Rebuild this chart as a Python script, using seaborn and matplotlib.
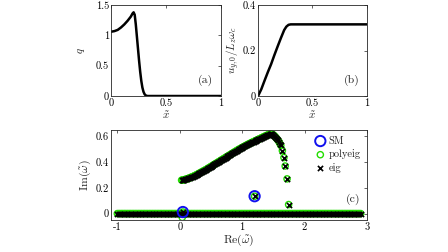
import numpy as np
import pandas as pd
import matplotlib
matplotlib.use("Agg")
import matplotlib.pyplot as plt
import seaborn as sns

# === data ===
# (a) q along x
xa = [0.0, 0.03, 0.06, 0.09, 0.12, 0.15, 0.18, 0.195, 0.205, 0.215, 0.225,
      0.235, 0.245, 0.255, 0.265, 0.275, 0.285, 0.295, 0.305, 0.315, 0.33,
      0.35, 0.5, 0.75, 1.0]
qa = [1.06, 1.07, 1.09, 1.13, 1.18, 1.24, 1.31, 1.36, 1.38, 1.34, 1.18,
      0.98, 0.78, 0.58, 0.40, 0.25, 0.14, 0.07, 0.03, 0.01, 0.0,
      0.0, 0.0, 0.0, 0.0]

# (b) u_y0 along x
xb = [0.0, 0.03, 0.06, 0.09, 0.12, 0.15, 0.18, 0.21, 0.24, 0.26, 0.28,
      0.30, 0.35, 0.5, 0.75, 1.0]
ub = [0.0, 0.03, 0.068, 0.105, 0.14, 0.18, 0.218, 0.255, 0.29, 0.305, 0.313,
      0.315, 0.315, 0.315, 0.315, 0.315]

# (c) eigenvalues: real-axis branch
re_real = [-1.0, -0.95, -0.9, -0.85, -0.8, -0.75, -0.7, -0.65, -0.6, -0.55,
           -0.5, -0.45, -0.4, -0.35, -0.3, -0.25, -0.2, -0.15, -0.1, -0.05,
           0.0, 0.05, 0.1, 0.15, 0.2, 0.25, 0.3, 0.35, 0.4, 0.45,
           0.5, 0.55, 0.6, 0.65, 0.7, 0.75, 0.8, 0.85, 0.9, 0.95,
           1.0, 1.05, 1.1, 1.15, 1.2, 1.25, 1.3, 1.35, 1.4, 1.45,
           1.5, 1.55, 1.6, 1.65, 1.7, 1.75, 1.8, 1.85, 1.9, 1.95,
           2.0, 2.05, 2.1, 2.15, 2.2, 2.25, 2.3, 2.35, 2.4, 2.45,
           2.5, 2.55, 2.6, 2.65, 2.7, 2.75, 2.8, 2.85, 2.9,
           -0.975, -0.925, -0.875, -0.825, -0.775, -0.725, -0.675, -0.625,
           -0.575, -0.525, -0.475, -0.425, -0.375, -0.325, -0.275, -0.225,
           -0.175, -0.125, -0.075, -0.025, 0.025, 0.075, 0.125, 0.175,
           0.225, 0.275, 0.325, 0.375, 0.425, 0.475, 0.525, 0.575,
           0.625, 0.675, 0.725, 0.775, 0.825, 0.875, 0.925, 0.975,
           1.025, 1.075, 1.125, 1.175, 1.225, 1.275, 1.325, 1.375,
           1.425, 1.475, 1.525, 1.575, 1.625, 1.675, 1.725, 1.775,
           1.825, 1.875, 1.925, 1.975, 2.025, 2.075, 2.125, 2.175,
           2.225, 2.275, 2.325, 2.375, 2.425, 2.475, 2.525, 2.575,
           2.625, 2.675, 2.725, 2.775, 2.825, 2.875]
im_real = [0.0] * len(re_real)

# unstable branch
re_branch = [0.03, 0.045, 0.06, 0.075, 0.09, 0.105, 0.12, 0.135, 0.15, 0.165,
             0.18, 0.195, 0.21, 0.225, 0.24, 0.255, 0.27, 0.285, 0.30, 0.315,
             0.33, 0.345, 0.36, 0.375, 0.39, 0.405, 0.42, 0.435, 0.45, 0.465,
             0.48, 0.495, 0.51, 0.525, 0.54, 0.555, 0.57, 0.585, 0.60, 0.615,
             0.63, 0.645, 0.66, 0.675, 0.69, 0.705, 0.72, 0.735, 0.75, 0.765,
             0.78, 0.795, 0.81, 0.825, 0.84, 0.855, 0.87, 0.885, 0.90, 0.915,
             0.93, 0.945, 0.96, 0.975, 0.99, 1.005, 1.02, 1.035, 1.05, 1.065,
             1.08, 1.095, 1.11, 1.125, 1.14, 1.155, 1.17, 1.185, 1.20, 1.215,
             1.23, 1.245, 1.26, 1.275, 1.29, 1.305, 1.32, 1.335, 1.35, 1.365,
             1.38, 1.395, 1.41, 1.425, 1.44, 1.455, 1.47, 1.485, 1.50, 1.515,
             1.53, 1.545, 1.56, 1.575, 1.59, 1.605, 1.62, 1.645, 1.67, 1.69,
             1.72, 1.745]
im_branch = [0.26, 0.261, 0.262, 0.264, 0.266, 0.268, 0.27, 0.273, 0.276, 0.279,
             0.282, 0.285, 0.288, 0.291, 0.295, 0.298, 0.302, 0.306, 0.31, 0.314,
             0.318, 0.322, 0.326, 0.33, 0.334, 0.338, 0.342, 0.346, 0.351, 0.355,
             0.36, 0.364, 0.369, 0.373, 0.378, 0.382, 0.387, 0.391, 0.396, 0.40,
             0.405, 0.409, 0.414, 0.418, 0.423, 0.427, 0.432, 0.436, 0.441, 0.445,
             0.45, 0.454, 0.459, 0.463, 0.468, 0.472, 0.477, 0.481, 0.486, 0.49,
             0.495, 0.499, 0.503, 0.507, 0.511, 0.515, 0.519, 0.523, 0.527, 0.531,
             0.535, 0.539, 0.542, 0.546, 0.549, 0.553, 0.556, 0.56, 0.563, 0.567,
             0.57, 0.574, 0.577, 0.581, 0.584, 0.588, 0.591, 0.595, 0.598, 0.602,
             0.605, 0.608, 0.611, 0.614, 0.616, 0.617, 0.618, 0.616, 0.612, 0.606,
             0.598, 0.59, 0.58, 0.57, 0.56, 0.545, 0.53, 0.49, 0.436, 0.37,
             0.27, 0.07]

# isolated modes
re_iso = [0.05, 1.2]
im_iso = [0.012, 0.135]

# SM points
re_sm = [0.05, 1.2]
im_sm = [0.012, 0.135]

re_poly = re_real + re_branch + re_iso + [0.04]
im_poly = im_real + im_branch + im_iso + [-0.03]
re_eig = re_real + re_branch + re_iso
im_eig = im_real + im_branch + im_iso

# === style ===
sns.set_style("white")
plt.rcParams['font.family'] = ['cmr10', 'DejaVu Serif']
plt.rcParams['mathtext.fontset'] = 'cm'
plt.rcParams['axes.unicode_minus'] = False
plt.rcParams['axes.formatter.use_mathtext'] = True
plt.rcParams['font.size'] = 7
plt.rcParams['xtick.direction'] = 'in'
plt.rcParams['ytick.direction'] = 'in'
plt.rcParams['xtick.top'] = True
plt.rcParams['ytick.right'] = True

fig = plt.figure(figsize=(4.48, 2.52), dpi=100)
ax_a = fig.add_axes([0.248, 0.619, 0.245, 0.361])
ax_b = fig.add_axes([0.576, 0.619, 0.243, 0.361])
ax_c = fig.add_axes([0.248, 0.127, 0.571, 0.357])


def style_ax(ax):
    for sp in ax.spines.values():
        sp.set_color('#262626')
        sp.set_linewidth(0.6)
    ax.tick_params(length=2, width=0.5, pad=1.5, labelsize=7.5, colors='#262626')
    for lab in ax.get_xticklabels() + ax.get_yticklabels():
        lab.set_color('black')


# (a)
sns.lineplot(x=xa, y=qa, ax=ax_a, color='black', linewidth=1.8)
ax_a.set_xlim(0, 1)
ax_a.set_ylim(0, 1.5)
ax_a.set_xticks([0, 0.5, 1], ['0', '0.5', '1'])
ax_a.set_yticks([0, 0.5, 1, 1.5], ['0', '0.5', '1', '1.5'])
ax_a.set_xlabel(r'$\tilde{x}$', fontsize=8, labelpad=1)
ax_a.set_ylabel(r'$q$', fontsize=8, labelpad=6)
ax_a.text(0.86, 0.17, '(a)', transform=ax_a.transAxes, fontsize=8.5,
          ha='center', va='center')
style_ax(ax_a)

# (b)
sns.lineplot(x=xb, y=ub, ax=ax_b, color='black', linewidth=1.8)
ax_b.set_xlim(0, 1)
ax_b.set_ylim(0, 0.4)
ax_b.set_xticks([0, 0.5, 1], ['0', '0.5', '1'])
ax_b.set_yticks([0, 0.2, 0.4], ['0', '0.2', '0.4'])
ax_b.set_xlabel(r'$\tilde{x}$', fontsize=8, labelpad=1)
ax_b.set_ylabel(r'$u_{y,0}/L_z\omega_c$', fontsize=8, labelpad=1)
ax_b.text(0.86, 0.17, '(b)', transform=ax_b.transAxes, fontsize=8.5,
          ha='center', va='center')
style_ax(ax_b)

# (c)
sns.scatterplot(x=re_poly, y=im_poly, ax=ax_c, marker='o', s=20,
                facecolor='none', edgecolor='#22dd00', linewidth=1.0,
                label='polyeig', zorder=2)
sns.scatterplot(x=re_eig, y=im_eig, ax=ax_c, marker='x', s=14,
                color='black', linewidth=1.2, label='eig', zorder=3)
sns.scatterplot(x=re_sm, y=im_sm, ax=ax_c, marker='o', s=55,
                facecolor='none', edgecolor='#1010ee', linewidth=1.4,
                label='SM', zorder=4)
ax_c.set_xlim(-1.1, 3)
ax_c.set_ylim(-0.05, 0.65)
ax_c.set_xticks([-1, 0, 1, 2, 3], ['-1', '0', '1', '2', '3'])
ax_c.set_yticks([0, 0.2, 0.4, 0.6], ['0', '0.2', '0.4', '0.6'])
ax_c.set_xlabel(r'$\mathrm{Re}(\tilde{\omega})$', fontsize=8.5, labelpad=1)
ax_c.set_ylabel(r'$\mathrm{Im}(\tilde{\omega})$', fontsize=8.5, labelpad=2)
ax_c.text(2.78, 0.11, '(c)', fontsize=8.5, ha='center', va='center')

handles, labels = ax_c.get_legend_handles_labels()
order = [labels.index('SM'), labels.index('polyeig'), labels.index('eig')]
ax_c.legend([handles[i] for i in order], [labels[i] for i in order],
            loc='upper right', frameon=False, fontsize=7.5,
            handletextpad=0.2, borderaxespad=0.2, labelspacing=0.35,
            handlelength=1.2)
style_ax(ax_c)

plt.savefig('out.png', dpi=100)
plt.close()
